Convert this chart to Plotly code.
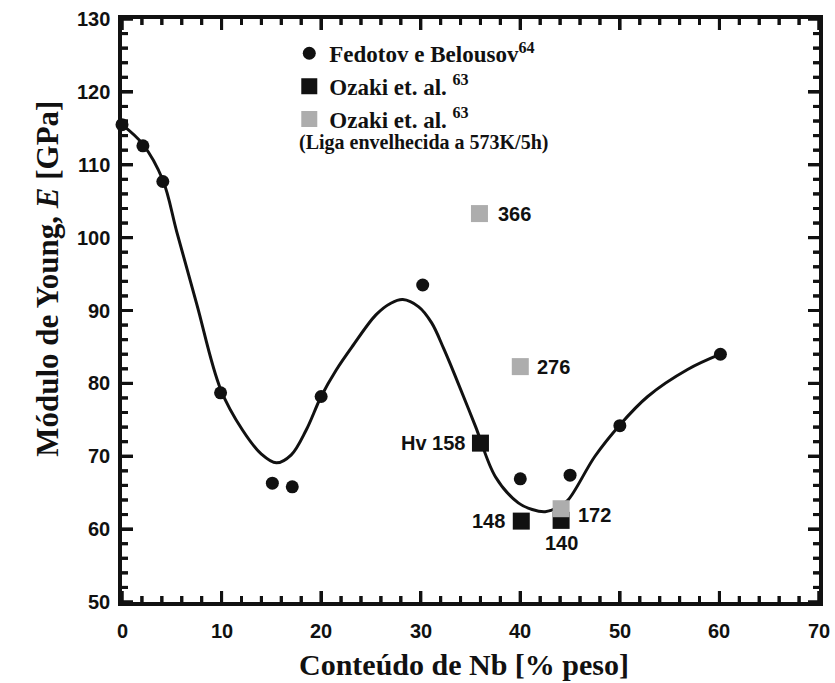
import plotly.graph_objects as go

# Fedotov e Belousov data (circles)
fed_x = [0, 2.1, 4.1, 9.9, 15.1, 17.1, 20.0, 30.2, 40.0, 45.0, 50.0, 60.1]
fed_y = [115.5, 112.6, 107.7, 78.7, 66.3, 65.8, 78.2, 93.5, 66.9, 67.4, 74.2, 84.0]

# Smooth guide curve
curve_x = [0, 2.1, 4.1, 5.5, 7.5, 9.9, 12.1, 14, 15.5, 17, 18.5, 20, 21.5, 23.1, 25.5, 27.0,
           28.2, 29.8, 31.1, 32.3, 33.5, 35.5, 37.5, 39.8, 41.2, 42.5, 43.8, 44.8, 47.5, 50,
           52.8, 56.8, 60.1]
curve_y = [115.5, 112.8, 107.9, 100.8, 90.9, 79.2, 73.6, 70.3, 69.1, 70.2, 73.6, 78.2, 81.8,
           85.0, 89.4, 91.0, 91.5, 90.5, 88.3, 84.8, 80.9, 74.1, 67.2, 63.6, 62.7, 62.4, 63.0,
           64.0, 70.0, 74.3, 78.2, 81.9, 84.0]

# Ozaki et. al. (black squares)
oz_x = [36.0, 40.1, 44.1]
oz_y = [71.8, 61.1, 61.2]
oz_lab = ["Hv 158", "148", "140"]

# Ozaki et. al. aged alloy (grey squares)
ozg_x = [35.9, 40.0, 44.1]
ozg_y = [103.3, 82.3, 62.8]
ozg_lab = ["366", "276", "172"]

x_ticks = [0, 10, 20, 30, 40, 50, 60, 70]
y_ticks = [50, 60, 70, 80, 90, 100, 110, 120, 130]
x_range = [0, 70]
y_range = [50, 130]
minor_step = 2

GREY = "#adadad"
SERIF = "Liberation Serif"
SANS = "Liberation Sans"
INK = "#111111"

W, H = 835, 683
M = dict(l=122, r=13, t=19, b=81)
ux = float(x_range[1] - x_range[0]) / (W - M["l"] - M["r"])   # data units per pixel
uy = float(y_range[1] - y_range[0]) / (H - M["t"] - M["b"])

# tick positions (major + minor) derived from the axis ranges
x_minor = [float(v) for v in range(x_range[0], x_range[1] + 1, minor_step)]
y_minor = [float(v) for v in range(y_range[0], y_range[1] + 1, minor_step)]

tx, ty = [], []
shapes = []
for v in x_minor:
    L = (11.0 if v in x_ticks else 6.0) * uy
    for base, sgn in ((float(y_range[0]), 1.0), (float(y_range[1]), -1.0)):
        tx += [v, v, None]
        ty += [base, base + sgn * L, None]
        shapes.append(dict(type="line", xref="x", yref="y", x0=v, x1=v, y0=base, y1=base + sgn * L,
                           line=dict(color=INK, width=3), layer="above"))
for v in y_minor:
    L = (11.0 if v in y_ticks else 6.0) * ux
    for base, sgn in ((float(x_range[0]), 1.0), (float(x_range[1]), -1.0)):
        tx += [base, base + sgn * L, None]
        ty += [v, v, None]
        shapes.append(dict(type="line", xref="x", yref="y", x0=base, x1=base + sgn * L, y0=v, y1=v,
                           line=dict(color=INK, width=3), layer="above"))

fig = go.Figure()
fig.add_trace(go.Scatter(x=tx, y=ty, mode="lines", line=dict(color=INK, width=3),
                         showlegend=False, hoverinfo="skip"))
fig.add_trace(go.Scatter(x=curve_x, y=curve_y, mode="lines",
                         line=dict(color=INK, width=3, shape="spline", smoothing=1.0),
                         showlegend=False, hoverinfo="skip", cliponaxis=False))
fig.add_trace(go.Scatter(x=fed_x, y=fed_y, mode="markers", marker=dict(symbol="circle", size=13, color=INK),
                         name="Fedotov e Belousov<sup>64</sup>", cliponaxis=False))
fig.add_trace(go.Scatter(x=oz_x, y=oz_y, mode="markers", marker=dict(symbol="square", size=17, color=INK),
                         name="Ozaki et. al. <sup>63</sup>", cliponaxis=False))
fig.add_trace(go.Scatter(x=ozg_x, y=ozg_y, mode="markers", marker=dict(symbol="square", size=17, color=GREY),
                         name="Ozaki et. al. <sup>63</sup>", cliponaxis=False))

ann = []
lab_font = dict(family=SANS, size=20, color=INK, weight="bold")
shifts_b = [(-12, 0, "right"), (-14, 0, "right"), (0, -23, "center")]
for x, y, t, (dx, dy, xa) in zip(oz_x, oz_y, oz_lab, shifts_b):
    ann.append(dict(x=x, y=y, text=t, showarrow=False, xanchor=xa, yanchor="middle",
                    xshift=dx, yshift=dy, font=lab_font))
shifts_g = [(17, 0), (15, 0), (15, -6)]
for x, y, t, (dx, dy) in zip(ozg_x, ozg_y, ozg_lab, shifts_g):
    ann.append(dict(x=x, y=y, text=t, showarrow=False, xanchor="left", yanchor="middle",
                    xshift=dx, yshift=dy, font=lab_font))

# tick labels as text placed on the axes
for v in x_ticks:
    ann.append(dict(x=v, xref="x", y=0, yref="paper", text=str(v), showarrow=False,
                    xanchor="center", yanchor="top", yshift=-16, font=lab_font))
for v in y_ticks:
    ann.append(dict(x=0, xref="paper", y=v, yref="y", text=str(v), showarrow=False,
                    xanchor="right", yanchor="middle", xshift=-10, font=lab_font))

ann.append(dict(xref="paper", yref="paper", x=0.2514, y=0.789, text="(Liga envelhecida a 573K/5h)",
                showarrow=False, xanchor="left", yanchor="middle",
                font=dict(family=SERIF, size=20, color=INK, weight="bold")))
ann.append(dict(xref="paper", yref="paper", x=0.49, y=-0.108, text="Conteúdo de Nb [% peso]",
                showarrow=False, xanchor="center", yanchor="middle",
                font=dict(family=SERIF, size=30, color=INK, weight="bold")))
ann.append(dict(xref="paper", yref="paper", x=-0.107, y=0.555, text="Módulo de Young, <i>E</i> [GPa]",
                showarrow=False, xanchor="center", yanchor="middle", textangle=-90,
                font=dict(family=SERIF, size=31, color=INK, weight="bold")))

axis_common = dict(showline=True, linewidth=4, linecolor=INK, mirror="allticks",
                   ticks="inside", ticklen=11, tickwidth=3, tickcolor=INK,
                   showgrid=False, zeroline=False, showticklabels=False)

fig.update_xaxes(range=x_range, tickvals=x_ticks, **axis_common)
fig.update_yaxes(range=y_range, tickvals=y_ticks, **axis_common)

fig.update_layout(
    width=W, height=H,
    margin=M,
    plot_bgcolor="white", paper_bgcolor="white",
    annotations=ann,
    shapes=shapes,
    legend=dict(x=0.24, y=0.978, xanchor="left", yanchor="top", bgcolor="rgba(0,0,0,0)",
                font=dict(family=SERIF, size=23, color=INK, weight="bold"),
                tracegroupgap=0, itemclick=False),
)

fig.write_html("out.html")
